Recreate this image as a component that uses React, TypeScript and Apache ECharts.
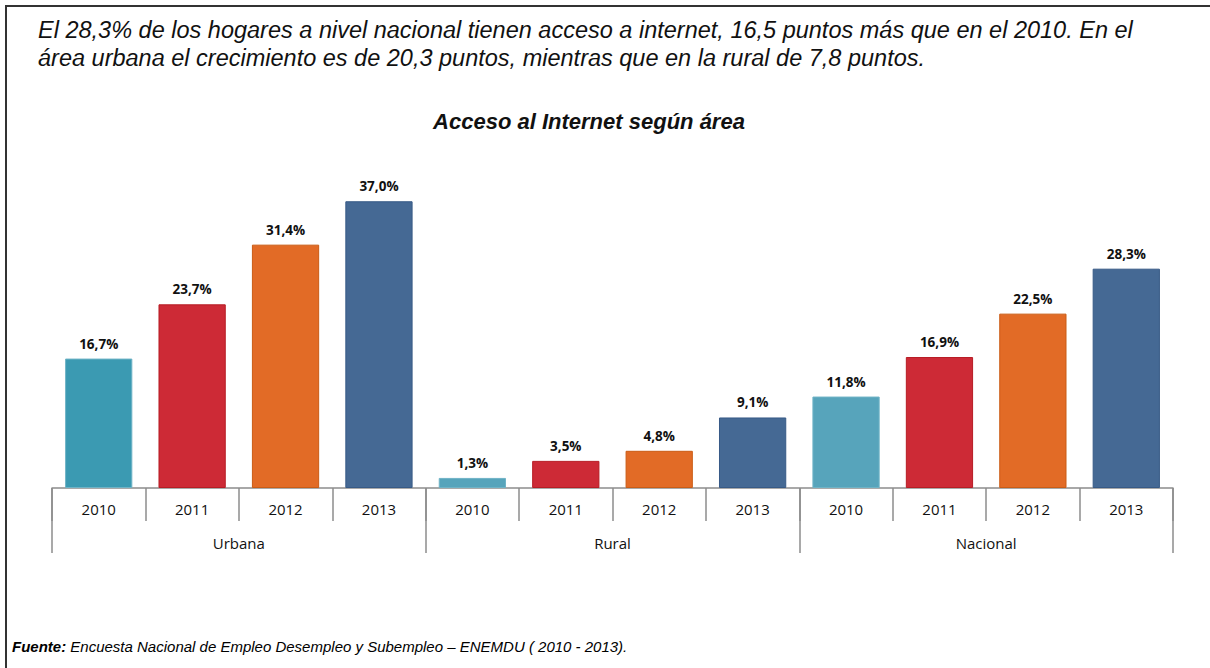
import React, { useEffect, useRef } from "react";
import * as echarts from "echarts";

const groups = ["Urbana", "Rural", "Nacional"];
const years = ["2010", "2011", "2012", "2013"];
const urbana = [16.7, 23.7, 31.4, 37.0];
const rural = [1.3, 3.5, 4.8, 9.1];
const nacional = [11.8, 16.9, 22.5, 28.3];

const fillColors = {
  Urbana: ["#3B9AB2", "#CD2A36", "#E26B26", "#456994"],
  Rural: ["#57A4BB", "#CD2A36", "#E26B26", "#456994"],
  Nacional: ["#57A4BB", "#CD2A36", "#E26B26", "#456994"],
};
const borderColors = ["#6FB3C6", "#B71C24", "#CA5C15", "#375A86"];

const headingLine1 =
  "El 28,3% de los hogares a nivel nacional tienen acceso a internet, 16,5 puntos más que en el 2010. En el";
const headingLine2 =
  "área urbana el crecimiento es de 20,3 puntos, mientras que en la rural de 7,8 puntos.";
const chartTitle = "Acceso al Internet según área";
const sourceLabel = "Fuente:";
const sourceText = " Encuesta Nacional de Empleo Desempleo y Subempleo – ENEMDU ( 2010 - 2013).";

export default function App() {
  const ref = useRef<HTMLDivElement>(null);
  useEffect(() => {
    document.body.style.margin = "0";
    if (!ref.current) return;
    const chart = echarts.init(ref.current, undefined, { renderer: "svg" });
    const seriesByGroup: Record<string, number[]> = {
      Urbana: urbana,
      Rural: rural,
      Nacional: nacional,
    };
    const cats: string[] = [];
    const data: any[] = [];
    groups.forEach((g) => {
      years.forEach((y, i) => {
        cats.push(g + "|" + y);
        data.push({
          value: seriesByGroup[g][i],
          itemStyle: {
            color: (fillColors as any)[g][i],
            borderColor: borderColors[i],
            borderWidth: 1,
          },
        });
      });
    });
    const font = "'Open Sans', sans-serif";
    const arial = "'Liberation Sans', Arial, sans-serif";
    chart.setOption({
      animation: false,
      backgroundColor: "#ffffff",
      grid: { left: 52, right: 37, top: 178, bottom: 180 },
      xAxis: [
        {
          type: "category",
          data: cats,
          position: "bottom",
          axisLine: { show: true, lineStyle: { color: "#8C8C8C", width: 1.5 } },
          axisTick: {
            show: true,
            length: 33,
            interval: 0,
            lineStyle: { color: "#8C8C8C", width: 1.5 },
          },
          axisLabel: {
            interval: 0,
            margin: 13,
            fontSize: 15,
            color: "#111111",
            fontFamily: font,
            formatter: (v: string) => v.split("|")[1],
          },
        },
        {
          type: "category",
          data: groups,
          position: "bottom",
          axisLine: { show: false },
          axisTick: {
            show: true,
            length: 65,
            interval: 0,
            lineStyle: { color: "#8C8C8C", width: 1.5 },
          },
          axisLabel: {
            interval: 0,
            margin: 47,
            fontSize: 15,
            color: "#111111",
            fontFamily: font,
          },
        },
      ],
      yAxis: { type: "value", min: 0, max: 40, show: false, splitLine: { show: false } },
      series: [
        {
          type: "bar",
          xAxisIndex: 0,
          data,
          barCategoryGap: "28%",
          label: {
            show: true,
            position: "top",
            distance: 8,
            fontSize: 13.5,
            fontWeight: "bold",
            color: "#111111",
            fontFamily: font,
            formatter: (p: any) => p.value.toFixed(1).replace(".", ",") + "%",
          },
        },
      ],
      graphic: [
        {
          type: "line",
          shape: { x1: 6, y1: 5, x2: 6, y2: 668 },
          style: { stroke: "#333333", lineWidth: 2 },
        },
        {
          type: "line",
          shape: { x1: 5, y1: 6, x2: 1210, y2: 6 },
          style: { stroke: "#333333", lineWidth: 2 },
        },
        {
          type: "text",
          x: 38,
          y: 30,
          style: {
            text: headingLine1,
            fontSize: 23.5,
            fontStyle: "italic",
            fontFamily: arial,
            fill: "#111111",
            verticalAlign: "middle",
          },
        },
        {
          type: "text",
          x: 38,
          y: 58,
          style: {
            text: headingLine2,
            fontSize: 23.5,
            fontStyle: "italic",
            fontFamily: arial,
            fill: "#111111",
            verticalAlign: "middle",
          },
        },
        {
          type: "text",
          x: 589,
          y: 121,
          style: {
            text: chartTitle,
            fontSize: 22,
            fontStyle: "italic",
            fontWeight: "bold",
            fontFamily: arial,
            fill: "#111111",
            align: "center",
            verticalAlign: "middle",
          },
        },
        {
          type: "text",
          x: 12,
          y: 646,
          style: {
            text: "{b|" + sourceLabel + "}{n|" + sourceText + "}",
            verticalAlign: "middle",
            rich: {
              b: {
                fontSize: 15,
                fontStyle: "italic",
                fontWeight: "bold",
                fontFamily: arial,
                color: "#111111",
              },
              n: {
                fontSize: 15,
                fontStyle: "italic",
                fontFamily: arial,
                color: "#111111",
              },
            },
          },
        },
      ],
    });
    return () => chart.dispose();
  }, []);
  return <div ref={ref} style={{ width: 1210, height: 668 }} />;
}
